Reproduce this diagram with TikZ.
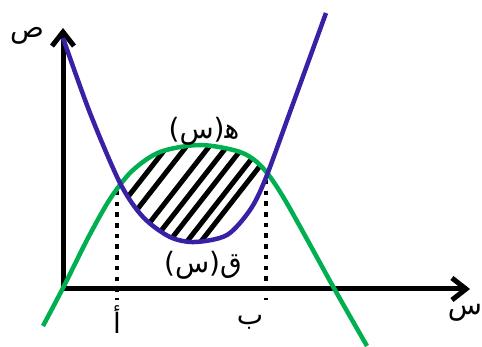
\documentclass[tikz,border=0pt]{standalone}
\usepackage{fontspec}
\newfontfamily\arabicfont[Script=Arabic]{DejaVu Sans}
\TeXXeTstate=1
\usetikzlibrary{arrows.meta}
\definecolor{curveblue}{RGB}{58,32,165}
\definecolor{curvegreen}{RGB}{0,176,80}
\tikzset{
  axisline/.style={line width=5pt, black, {Straight Barb[length=14pt,width=22pt]}-{Straight Barb[length=14pt,width=22pt]}, line join=miter},
  bluecurve/.style={line width=4.5pt, curveblue},
  greencurve/.style={line width=4.5pt, curvegreen},
  hatchline/.style={line width=5pt, black},
  dotline/.style={line width=4.5pt, black, dash pattern=on 4.5pt off 6.2pt},
  lbl/.style={inner sep=0pt, font=\arabicfont\fontsize{28}{32}\selectfont}
}
\def\greenpts{(43,326) (64,286) (88,238) (110,199) (132,171) (160,152) (200,145) (240,152) (262,167) (285,200) (335,290) (367,346)}
\def\bluepts{(63,38) (90,113) (120,183) (143,217) (170,237) (195,242) (227,235) (250,210) (265,180) (290,112) (326,13)}
\begin{document}
\begin{tikzpicture}[x=1pt,y=-1pt]
\useasboundingbox (0,0) rectangle (482,347);
% key points
\coordinate (Ytip) at (63,28);
\coordinate (O) at (63,289);
\coordinate (Xtip) at (470,289);
\coordinate (A) at (117,191);
\coordinate (Abot) at (117,300);
\coordinate (B) at (266,180);
\coordinate (Bbot) at (266,300);
% axes
\draw[axisline] (Ytip) |- (Xtip);
% dotted verticals
\draw[dotline] (A) -- (Abot);
\draw[dotline] (B) -- (Bbot);
% hatching between the curves
\begin{scope}
  \clip plot[smooth] coordinates {\greenpts} -- (367,400) -- (43,400) -- cycle;
  \clip plot[smooth] coordinates {\bluepts} -- (326,-50) -- (63,-50) -- cycle;
  \foreach \c in {222,237,255,269,282,296,307}{
    \draw[hatchline] ({0.788*\c-0.616*120},{0.616*\c+0.788*120}) -- ({0.788*\c+0.616*120},{0.616*\c-0.788*120});
  }
\end{scope}
% curves
\draw[greencurve] plot[smooth] coordinates {\greenpts};
\draw[bluecurve] plot[smooth] coordinates {\bluepts};
% labels
\node[lbl] (ly) at (27,36) {\beginR ص\endR};
\node[lbl] (lx) at (465,313) {\beginR س\endR};
\node[lbl] (la) at (117,320) {\beginR أ\endR};
\node[lbl] (lb) at (250,322) {\beginR ب\endR};
\node[lbl] (lh) at (204,131) {\beginR ^^^^feeb(س)\endR};
\node[lbl] (lq) at (203,265) {\beginR ق(س)\endR};
\end{tikzpicture}
\end{document}
